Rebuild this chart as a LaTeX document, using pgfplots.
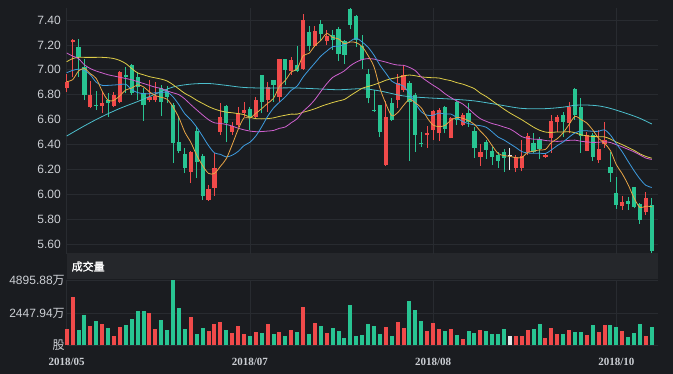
\documentclass[border=0pt]{standalone}
\usepackage{pgfplots}
\pgfplotsset{compat=1.18}
\usepackage{pgfplotstable}
\usepackage{fontspec}
\setmainfont{Liberation Sans}
\newfontfamily\cjk{Noto Sans CJK SC}
\newfontfamily\cjkb[FakeBold=1.2]{Noto Sans CJK SC}
\newfontfamily\xserif{Liberation Serif}
\definecolor{bg}{RGB}{26,28,32}
\definecolor{band}{RGB}{37,39,43}
\definecolor{gridc}{RGB}{40,43,48}
\definecolor{labc}{RGB}{204,207,212}
\definecolor{cred}{RGB}{240,74,74}
\definecolor{cgreen}{RGB}{40,196,146}
\definecolor{cwhite}{RGB}{232,232,232}
\definecolor{ma5}{RGB}{232,165,70}
\definecolor{ma10}{RGB}{62,156,224}
\definecolor{ma20}{RGB}{206,96,206}
\definecolor{ma30}{RGB}{222,204,72}
\definecolor{ma60}{RGB}{76,190,204}

\pgfplotstableread{
x o h l c v
0 6.85 6.97 6.82 6.905 1224
1 7.22 7.25 6.94 7.24 3620
4 6.70 6.91 6.69 6.80 1498
6 6.71 6.82 6.65 6.735 1647
8 6.71 6.82 6.70 6.80 705
9 6.74 6.99 6.73 6.985 1395
14 6.755 6.92 6.74 6.785 2463
15 6.76 6.90 6.74 6.79 1276
21 6.18 6.35 6.09 6.34 2114
24 5.955 6.075 5.945 6.04 1076
25 6.05 6.33 5.99 6.21 1647
26 6.50 6.73 6.48 6.62 1795
28 6.50 6.58 6.48 6.55 950
29 6.56 6.70 6.54 6.65 1469
30 6.65 6.74 6.62 6.68 831
32 6.62 6.78 6.61 6.76 979
34 6.76 6.90 6.66 6.865 1647
36 6.78 7.09 6.74 7.09 1024
38 6.99 7.105 6.96 7.08 1150
40 7.01 7.45 7.00 7.40 2930
42 7.19 7.35 7.18 7.31 1669
44 7.23 7.32 7.20 7.27 905
54 6.235 6.75 6.23 6.62 1424
56 6.76 6.97 6.69 6.89 1743
57 6.84 7.04 6.82 6.96 1298
61 6.475 6.55 6.37 6.49 1127
62 6.52 6.68 6.44 6.67 1669
63 6.49 6.69 6.43 6.68 1276
65 6.455 6.62 6.45 6.61 1246
67 6.56 6.65 6.545 6.64 504
70 6.30 6.40 6.23 6.34 1172
76 6.215 6.315 6.18 6.30 682
77 6.21 6.435 6.185 6.31 705
78 6.34 6.49 6.315 6.47 1200
81 6.30 6.32 6.295 6.315 534
82 6.45 6.64 6.335 6.59 1298
83 6.58 6.637 6.50 6.62 876
85 6.57 6.74 6.49 6.70 1200
88 6.35 6.50 6.345 6.48 757
90 6.275 6.52 6.255 6.365 1000
91 6.40 6.58 6.375 6.435 1543
94 5.91 5.99 5.875 5.935 1098
98 5.855 6.015 5.835 5.97 682
}\redtab

\pgfplotstableread{
x o h l c v
2 7.18 7.25 6.945 7.10 1200
3 7.02 7.09 6.76 6.80 2262
5 6.72 6.83 6.68 6.71 1840
7 6.76 6.81 6.62 6.73 1320
10 6.96 7.02 6.81 6.94 1573
11 7.04 7.05 6.80 6.81 1966
12 6.94 6.985 6.76 6.86 2633
13 6.81 6.85 6.59 6.72 2633
16 6.85 6.88 6.63 6.74 1891
17 6.83 6.87 6.73 6.78 1150
18 6.72 6.73 6.25 6.41 4895.88
19 6.42 6.63 6.33 6.35 2804
20 6.32 6.37 6.17 6.21 1224
22 6.51 6.54 6.13 6.26 853
23 6.31 6.32 5.955 5.99 1298
27 6.71 6.72 6.42 6.57 1150
31 6.685 6.70 6.52 6.61 682
33 6.96 6.96 6.65 6.74 905
35 6.92 6.92 6.74 6.88 875
37 7.09 7.09 6.88 7.00 705
39 7.04 7.19 6.98 6.99 1024
41 7.30 7.35 7.15 7.19 831
43 7.37 7.40 7.23 7.29 1447
45 7.28 7.32 7.16 7.24 1350
46 7.33 7.34 7.07 7.13 1076
47 7.23 7.24 7.05 7.12 556
48 7.49 7.50 7.33 7.36 3056
49 7.43 7.44 7.18 7.24 727
50 7.19 7.28 7.01 7.08 779
51 6.97 7.01 6.73 6.77 1595
52 6.68 6.84 6.66 6.67 1498
53 6.72 6.72 6.46 6.50 853
55 6.73 6.77 6.59 6.60 705
58 6.89 6.91 6.27 6.74 3375
59 6.80 6.81 6.34 6.48 2707
60 6.41 6.50 6.38 6.40 1840
64 6.70 6.71 6.49 6.525 1098
66 6.745 6.75 6.56 6.60 757
68 6.65 6.73 6.54 6.58 1098
69 6.51 6.54 6.29 6.375 905
71 6.42 6.435 6.285 6.355 1076
72 6.35 6.38 6.235 6.30 853
73 6.315 6.34 6.21 6.27 876
74 6.34 6.36 6.18 6.29 1276
79 6.41 6.49 6.33 6.34 1246
80 6.445 6.46 6.28 6.365 1647
84 6.64 6.66 6.46 6.58 876
86 6.845 6.85 6.60 6.64 979
87 6.70 6.77 6.33 6.465 1000
89 6.48 6.49 6.27 6.30 1573
92 6.22 6.34 6.10 6.175 1520
93 6.01 6.14 5.885 5.915 1424
95 5.945 5.98 5.875 5.925 608
96 6.055 6.06 5.887 5.90 927
97 5.92 5.93 5.765 5.795 1647
99 5.915 5.97 5.528 5.545 1395
}\greentab

\pgfplotstableread{
x o h l c v
75 6.305 6.37 6.195 6.315 682
}\whitetab

\pgfplotstableread{
i m5 m10 m20 m30
0 6.905 6.977 7.135 7.065
1 6.92 6.995 7.11 7.09
2 6.99 7.005 7.09 7.10
3 7.01 6.995 7.04 7.10
4 6.969 6.96 7.01 7.10
5 6.93 6.90 6.99 7.10
6 6.829 6.875 6.975 7.10
7 6.755 6.875 6.96 7.097
8 6.755 6.878 6.95 7.09
9 6.792 6.881 6.94 7.075
10 6.838 6.884 6.93 7.05
11 6.853 6.841 6.92 7.01
12 6.879 6.817 6.905 6.975
13 6.863 6.809 6.89 6.96
14 6.823 6.808 6.875 6.945
15 6.793 6.816 6.86 6.935
16 6.779 6.816 6.85 6.925
17 6.763 6.821 6.83 6.91
18 6.701 6.782 6.815 6.88
19 6.614 6.719 6.80 6.845
20 6.498 6.646 6.765 6.81
21 6.418 6.599 6.72 6.785
22 6.314 6.539 6.678 6.755
23 6.23 6.466 6.637 6.73
24 6.168 6.391 6.599 6.705
25 6.168 6.333 6.574 6.685
26 6.224 6.321 6.569 6.67
27 6.286 6.30 6.561 6.66
28 6.398 6.314 6.548 6.655
29 6.52 6.344 6.531 6.648
30 6.614 6.391 6.518 6.640
31 6.612 6.418 6.508 6.619
32 6.65 6.468 6.503 6.608
33 6.688 6.543 6.504 6.606
34 6.731 6.626 6.508 6.608
35 6.771 6.693 6.513 6.614
36 6.867 6.74 6.53 6.626
37 6.915 6.783 6.541 6.635
38 6.983 6.836 6.575 6.644
39 7.008 6.87 6.607 6.644
40 7.112 6.942 6.666 6.659
41 7.132 7.00 6.709 6.672
42 7.194 7.055 6.761 6.687
43 7.236 7.11 6.826 6.706
44 7.292 7.15 6.888 6.722
45 7.26 7.186 6.939 6.737
46 7.248 7.19 6.965 6.75
47 7.21 7.202 6.992 6.762
48 7.224 7.23 7.033 6.793
49 7.218 7.255 7.062 6.823
50 7.186 7.223 7.082 6.852
51 7.114 7.181 7.09 6.866
52 7.024 7.117 7.086 6.88
53 6.852 7.038 7.074 6.897
54 6.728 6.973 7.062 6.916
55 6.632 6.909 7.048 6.929
56 6.656 6.885 7.038 6.938
57 6.714 6.869 7.036 6.951
58 6.762 6.807 7.019 6.958
59 6.734 6.731 6.993 6.952
60 6.694 6.663 6.943 6.943
61 6.614 6.635 6.908 6.939
62 6.556 6.635 6.876 6.936
63 6.544 6.653 6.846 6.934
64 6.553 6.644 6.808 6.922
65 6.595 6.645 6.777 6.913
66 6.617 6.616 6.75 6.897
67 6.611 6.584 6.726 6.885
68 6.591 6.568 6.687 6.868
69 6.561 6.557 6.644 6.848
70 6.507 6.551 6.607 6.812
71 6.458 6.538 6.586 6.785
72 6.39 6.501 6.568 6.751
73 6.328 6.46 6.556 6.717
74 6.311 6.436 6.54 6.684
75 6.305 6.406 6.525 6.653
76 6.294 6.376 6.496 6.626
77 6.296 6.343 6.463 6.599
78 6.336 6.332 6.45 6.569
79 6.346 6.329 6.443 6.539
80 6.357 6.331 6.441 6.515
81 6.36 6.327 6.432 6.50
82 6.416 6.356 6.428 6.497
83 6.446 6.391 6.425 6.501
84 6.494 6.42 6.428 6.50
85 6.561 6.459 6.433 6.503
86 6.626 6.493 6.435 6.495
87 6.601 6.509 6.426 6.478
88 6.573 6.51 6.421 6.47
89 6.517 6.506 6.417 6.464
90 6.45 6.506 6.418 6.463
91 6.409 6.518 6.422 6.461
92 6.351 6.476 6.416 6.444
93 6.238 6.406 6.398 6.419
94 6.165 6.341 6.381 6.399
95 6.077 6.264 6.361 6.376
96 5.97 6.19 6.341 6.353
97 5.894 6.123 6.316 6.325
98 5.905 6.072 6.291 6.304
99 5.90 6.055 6.28 6.29
}\matab

\pgfplotstableread{
i m60
0 6.468
3 6.55
6 6.625
9 6.69
12 6.745
15 6.805
18 6.862
21 6.885
24 6.89
27 6.875
30 6.858
34 6.853
38 6.855
42 6.848
46 6.84
50 6.848
53 6.83
57 6.79
61 6.775
65 6.765
69 6.75
73 6.72
77 6.69
81 6.688
84 6.70
86 6.715
88 6.717
90 6.71
92 6.69
95 6.645
97 6.61
99 6.565
}\masixty

\pgfplotsset{
  wick/.style={draw=none, mark=none, forget plot,
    error bars/.cd, y dir=plus, y explicit, error mark=none,
    error bar style={line width=1pt, draw=#1}},
  body/.style={draw=none, mark=none, forget plot,
    error bars/.cd, y dir=plus, y explicit, error mark=none,
    error bar style={line width=4.2pt, draw=#1}},
}

\begin{document}
\begin{tikzpicture}
\fill[bg] (0pt,0pt) rectangle (673pt,374pt);
\useasboundingbox (0pt,0pt) rectangle (673pt,374pt);
\fill[band] (66.7pt,95pt) rectangle (657.7pt,121pt);

\begin{axis}[
  at={(66.7pt,119.94pt)}, anchor=south west, scale only axis,
  width=591pt, height=246.5pt,
  xmin=0, xmax=100, ymin=5.52, ymax=7.50,
  clip=false,
  axis line style={draw=none}, tick style={draw=none},
  major tick length=0pt,
  xtick={0,31,62,93}, xticklabels={},
  ytick={5.6,5.8,6.0,6.2,6.4,6.6,6.8,7.0,7.2,7.4},
  yticklabels={5.60,5.80,6.00,6.20,6.40,6.60,6.80,7.00,7.20,7.40},
  yticklabel style={font=\fontsize{12}{14}\selectfont, text=labc, anchor=east, inner sep=0pt, xshift=-5.7pt},
  xmajorgrids, ymajorgrids,
  grid style={color=gridc, line width=0.7pt},
]
% wicks
\addplot[wick=cred] table[x=x, y=l, y error plus expr=\thisrow{h}-\thisrow{l}] \redtab;
\addplot[wick=cgreen] table[x=x, y=l, y error plus expr=\thisrow{h}-\thisrow{l}] \greentab;
\addplot[wick=cwhite] table[x=x, y=l, y error plus expr=\thisrow{h}-\thisrow{l}] \whitetab;
% bodies
\addplot[body=cred] table[x=x, y=o, y error plus expr=\thisrow{c}-\thisrow{o}] \redtab;
\addplot[body=cgreen] table[x=x, y=c, y error plus expr=\thisrow{o}-\thisrow{c}] \greentab;
\addplot[body=cwhite] table[x=x, y=o, y error plus expr=\thisrow{c}-\thisrow{o}] \whitetab;
% moving averages
\addplot[ma60, line width=0.8pt, smooth, tension=0.5, mark=none] table[x=i, y=m60] \masixty;
\addplot[ma30, line width=0.8pt, smooth, tension=0.5, mark=none] table[x=i, y=m30] \matab;
\addplot[ma20, line width=0.8pt, smooth, tension=0.5, mark=none] table[x=i, y=m20] \matab;
\addplot[ma10, line width=0.8pt, smooth, tension=0.5, mark=none] table[x=i, y=m10] \matab;
\addplot[ma5, line width=0.8pt, smooth, tension=0.5, mark=none] table[x=i, y=m5] \matab;
\end{axis}

\node[anchor=west, text=white, font=\cjkb\fontsize{11}{13}\selectfont, inner sep=0pt] at (71.5pt,107.5pt) {成交量};

\begin{axis}[
  at={(66.7pt,28.5pt)}, anchor=south west, scale only axis,
  width=591pt, height=65pt,
  xmin=0, xmax=100, ymin=0, ymax=4895.88,
  clip=false,
  axis line style={draw=none}, tick style={draw=none},
  major tick length=0pt,
  xtick={0,31,62,93},
  xticklabels={2018/05,2018/07,2018/08,2018/10},
  xticklabel style={font=\xserif\bfseries\fontsize{11}{13}\selectfont, text=labc, anchor=north, inner sep=0pt, yshift=-12.8pt},
  ytick={0,2447.94,4895.88},
  yticklabels={{\cjk 股},{2447.94\cjk 万},{4895.88\cjk 万}},
  yticklabel style={font=\fontsize{12}{14}\selectfont, text=labc, anchor=east, inner sep=0pt, xshift=-1.8pt},
  scaled y ticks=false,
  xmajorgrids, ymajorgrids,
  grid style={color=gridc, line width=0.7pt},
]
\addplot[ycomb, color=cred, line width=4pt, mark=none] table[x=x, y=v] \redtab;
\addplot[ycomb, color=cgreen, line width=4pt, mark=none] table[x=x, y=v] \greentab;
\addplot[ycomb, color=cwhite, line width=4pt, mark=none] table[x=x, y=v] \whitetab;
\end{axis}
\end{tikzpicture}
\end{document}
